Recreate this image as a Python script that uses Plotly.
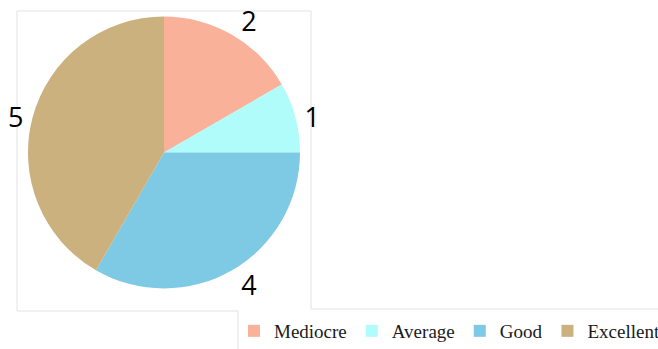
import plotly.graph_objects as go

categories = ["Mediocre", "Average", "Good", "Excellent"]
values = [2, 1, 4, 5]
colors = ["#F9B19A", "#B0FCFA", "#7ECAE4", "#CBB17E"]

W, H = 658, 349

def px(x):
    return x / W

def py(y):
    return 1 - y / H

fig = go.Figure(go.Pie(
    labels=categories,
    values=values,
    sort=False,
    direction="clockwise",
    rotation=0,
    marker=dict(colors=colors, line=dict(width=0)),
    textinfo="value",
    textposition="outside",
    textfont=dict(family="Open Sans, Liberation Sans, sans-serif", size=27, color="#000000"),
    domain=dict(x=[px(28), px(300)], y=[py(288.5), py(16.5)]),
    hoverinfo="label+value",
))

line_style = dict(color="#E3E3E3", width=1)
segments = [
    (17, 11, 311, 11),
    (17, 11, 17, 311),
    (17, 311, 238, 311),
    (311, 11, 311, 309),
    (311, 309, 658, 309),
    (238, 311, 238, 349),
]
shapes = [
    dict(type="line", xref="paper", yref="paper",
         x0=px(a), y0=py(b), x1=px(c), y1=py(d), line=line_style, layer="below")
    for a, b, c, d in segments
]

fig.update_layout(
    width=W, height=H,
    margin=dict(l=0, r=0, t=0, b=0, autoexpand=False),
    paper_bgcolor="white",
    plot_bgcolor="white",
    shapes=shapes,
    showlegend=True,
    legend=dict(
        orientation="h",
        x=px(234), y=py(312), xanchor="left", yanchor="top",
        font=dict(family="Liberation Serif, Times New Roman, serif", size=19, color="#1a1a1a"),
        itemwidth=30,
        tracegroupgap=0,
        bgcolor="rgba(0,0,0,0)",
    ),
)

fig.write_html("out.html", config={"displayModeBar": False},
               post_script="document.body.style.margin='0';")
